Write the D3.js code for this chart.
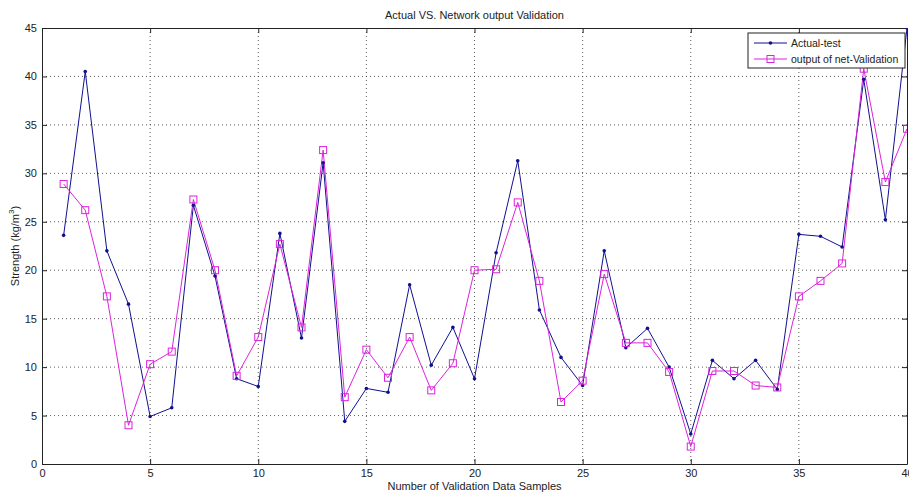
<!DOCTYPE html>
<html>
<head>
<meta charset="utf-8">
<script src="https://cdn.jsdelivr.net/npm/d3@7"></script>
<style>
  body { margin: 0; background: #fff; overflow: hidden; }
  svg { display: block; font-family: "Liberation Sans", Arial, sans-serif; }
  .grid line { stroke: #333; stroke-dasharray: 1,3; stroke-width: 0.8; }
</style>
</head>
<body>
<div id="graph"></div>
<script>
const samples = d3.range(1, 41);
const actual = [23.6, 40.5, 22.0, 16.5, 4.9, 5.8, 26.7, 19.4, 8.8, 8.0,
  23.8, 13.0, 31.1, 4.4, 7.8, 7.4, 18.5, 10.2, 14.1, 8.8,
  21.8, 31.3, 15.9, 11.0, 8.1, 22.0, 12.0, 14.0, 10.0, 3.1,
  10.7, 8.8, 10.7, 7.7, 23.7, 23.5, 22.4, 39.7, 25.2, 45.0];
const output = [28.9, 26.2, 17.3, 4.0, 10.3, 11.6, 27.3, 20.0, 9.1, 13.1,
  22.7, 14.1, 32.4, 6.9, 11.8, 8.9, 13.1, 7.6, 10.4, 20.0,
  20.1, 27.0, 18.9, 6.4, 8.6, 19.6, 12.5, 12.5, 9.5, 1.8,
  9.6, 9.6, 8.1, 7.9, 17.3, 18.9, 20.7, 40.8, 29.1, 34.6];
const xTicks = [0, 5, 10, 15, 20, 25, 30, 35, 40];
const yTicks = [0, 5, 10, 15, 20, 25, 30, 35, 40, 45];

const w = 909, h = 493;
const padLeft = 42, padRight = 907, padTop = 28, padBottom = 464;
const blue = '#10108f', magenta = '#dd22dd';

const svg = d3.select('#graph').append('svg').attr('width', w).attr('height', h);

const xScale = d3.scaleLinear().domain([0, 40]).range([padLeft, padRight]);
const yScale = d3.scaleLinear().domain([0, 45]).range([padBottom, padTop]);

// grid
svg.append('g').attr('class', 'grid')
  .selectAll('line').data(xTicks.slice(1, -1)).enter().append('line')
  .attr('x1', d => xScale(d)).attr('x2', d => xScale(d))
  .attr('y1', padTop).attr('y2', padBottom);
svg.append('g').attr('class', 'grid')
  .selectAll('line').data(yTicks.slice(1, -1)).enter().append('line')
  .attr('y1', d => yScale(d)).attr('y2', d => yScale(d))
  .attr('x1', padLeft).attr('x2', padRight);

// axes (ticks inward, box)
const axisStyle = g => {
  g.select('.domain').attr('stroke', '#222');
  g.selectAll('.tick line').attr('stroke', '#222');
  g.selectAll('text').attr('font-size', 11).attr('fill', '#222')
    .attr('font-family', '"Liberation Sans", Arial, sans-serif');
};
svg.append('g').attr('transform', 'translate(0,' + padBottom + ')')
  .call(d3.axisBottom(xScale).tickValues(xTicks).tickSizeInner(-5).tickSizeOuter(0).tickPadding(5))
  .call(axisStyle);
svg.append('g').attr('transform', 'translate(0,' + padTop + ')')
  .call(d3.axisTop(xScale).tickValues(xTicks).tickSizeInner(-5).tickSizeOuter(0).tickFormat(''))
  .call(axisStyle);
svg.append('g').attr('transform', 'translate(' + padLeft + ',0)')
  .call(d3.axisLeft(yScale).tickValues(yTicks).tickSizeInner(-5).tickSizeOuter(0).tickPadding(5))
  .call(axisStyle);
svg.append('g').attr('transform', 'translate(' + padRight + ',0)')
  .call(d3.axisRight(yScale).tickValues(yTicks).tickSizeInner(-5).tickSizeOuter(0).tickFormat(''))
  .call(axisStyle);

// lines
svg.append('clipPath').attr('id', 'clip').append('rect')
  .attr('x', padLeft).attr('y', padTop).attr('width', padRight - padLeft).attr('height', padBottom - padTop);
const plot = svg.append('g').attr('clip-path', 'url(#clip)');
const line = d3.line().x((d, i) => xScale(samples[i])).y(d => yScale(d));

plot.append('path').datum(actual).attr('d', line)
  .attr('fill', 'none').attr('stroke', blue).attr('stroke-width', 1);
plot.append('path').datum(output).attr('d', line)
  .attr('fill', 'none').attr('stroke', magenta).attr('stroke-width', 1);

plot.selectAll('circle.a').data(actual).enter().append('circle')
  .attr('class', 'a')
  .attr('cx', (d, i) => xScale(samples[i])).attr('cy', d => yScale(d))
  .attr('r', 1.8).attr('fill', blue);
plot.selectAll('rect.o').data(output).enter().append('rect')
  .attr('class', 'o')
  .attr('x', (d, i) => xScale(samples[i]) - 3.5).attr('y', d => yScale(d) - 3.5)
  .attr('width', 7).attr('height', 7)
  .attr('fill', 'none').attr('stroke', magenta).attr('stroke-width', 1);

// title and labels
svg.append('text').text('Actual VS. Network output Validation')
  .attr('x', (padLeft + padRight) / 2).attr('y', 19).attr('text-anchor', 'middle')
  .attr('font-size', 11).attr('fill', '#222');
svg.append('text').text('Number of Validation Data Samples')
  .attr('x', (padLeft + padRight) / 2).attr('y', 490).attr('text-anchor', 'middle')
  .attr('font-size', 11).attr('fill', '#222');
const yl = svg.append('text')
  .attr('transform', 'translate(19,' + ((padTop + padBottom) / 2) + ') rotate(-90)')
  .attr('text-anchor', 'middle').attr('font-size', 11).attr('fill', '#222');
yl.append('tspan').text('Strength (kg/m');
yl.append('tspan').text('3').attr('font-size', 8).attr('dy', -5);
yl.append('tspan').text(')').attr('dy', 5);

// legend
const legend = svg.append('g').attr('transform', 'translate(748,33)');
legend.append('rect').attr('width', 157).attr('height', 35)
  .attr('fill', '#fff').attr('stroke', '#222').attr('stroke-width', 1);
const items = [
  { name: 'Actual-test', color: blue, mark: 'dot' },
  { name: 'output of net-Validation', color: magenta, mark: 'square' }
];
items.forEach((it, i) => {
  const y = 10 + i * 16;
  legend.append('line').attr('x1', 6).attr('x2', 39).attr('y1', y).attr('y2', y)
    .attr('stroke', it.color).attr('stroke-width', 1);
  if (it.mark === 'dot') {
    legend.append('circle').attr('cx', 22.5).attr('cy', y).attr('r', 1.8).attr('fill', it.color);
  } else {
    legend.append('rect').attr('x', 19).attr('y', y - 3.5).attr('width', 7).attr('height', 7)
      .attr('fill', 'none').attr('stroke', it.color);
  }
  legend.append('text').text(it.name).attr('x', 43).attr('y', y + 4)
    .attr('font-size', 10.5).attr('fill', '#222');
});
</script>
</body>
</html>
